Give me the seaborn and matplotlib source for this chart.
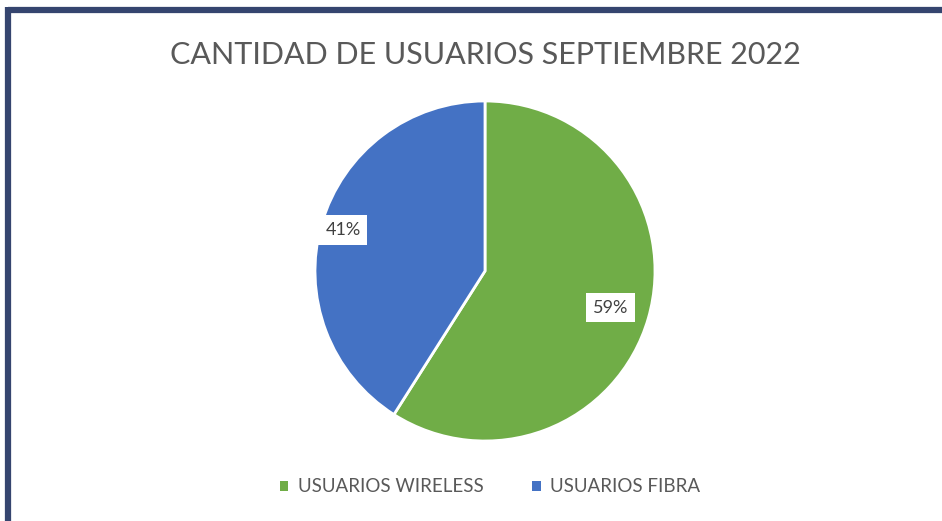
import matplotlib
matplotlib.use("Agg")
import matplotlib.pyplot as plt
from matplotlib.patches import Patch
from matplotlib.lines import Line2D
import numpy as np
import seaborn as sns

# ── data ──────────────────────────────────────────────────────────────────────
TITLE      = "CANTIDAD DE USUARIOS SEPTIEMBRE 2022"
categories = ["USUARIOS WIRELESS", "USUARIOS FIBRA"]
shares     = [59, 41]
colors     = ["#70AD47", "#4472C4"]

# ── style ─────────────────────────────────────────────────────────────────────
sns.set_theme(style="white")
plt.rcParams["font.family"] = ["Lato", "DejaVu Sans"]
TEXT_GRAY = "#595959"
NAVY      = "#35456f"

W, H = 942, 521
fig = plt.figure(figsize=(W / 100, H / 100), dpi=100)
fig.patch.set_facecolor("white")

# pie axes: centre (485, 271) px, radius 170 px
cx, cy, r = 485, 271, 170
ax = fig.add_axes([(cx - r) / W, (H - cy - r) / H, 2 * r / W, 2 * r / H])
wedges, _ = ax.pie(shares, colors=colors, startangle=90, counterclock=False,
                   radius=1.0, wedgeprops=dict(edgecolor="white", linewidth=2))
ax.set_xlim(-1, 1); ax.set_ylim(-1, 1)
ax.set_aspect("equal")
ax.axis("off")

# percentage labels in white boxes
for w, val, dist in zip(wedges, shares, [0.77, 0.87]):
    ang = np.deg2rad((w.theta1 + w.theta2) / 2)
    ax.text(dist * np.cos(ang), dist * np.sin(ang), f"{val}%",
            ha="center", va="center", fontsize=13, color="#404040",
            bbox=dict(facecolor="white", edgecolor="none", pad=5))

# title
fig.text(cx / W, 1 - 55 / H, TITLE, ha="center", va="center",
         fontsize=22, color=TEXT_GRAY)

# legend
handles = [Patch(facecolor=c, edgecolor="none") for c in colors]
leg = fig.legend(handles, categories, loc="center", bbox_to_anchor=(490 / W, 1 - 487 / H),
                 ncol=2, frameon=False, fontsize=13.5, handlelength=0.45, handleheight=0.45,
                 handletextpad=0.5, columnspacing=2.6)
for t in leg.get_texts():
    t.set_color(TEXT_GRAY)

# navy frame on top and left edges
fig.add_artist(Line2D([8 / W, 1], [1 - 10 / H, 1 - 10 / H], transform=fig.transFigure,
                      color=NAVY, linewidth=4.5, solid_capstyle="butt"))
fig.add_artist(Line2D([8 / W, 8 / W], [0, 1 - 7 / H], transform=fig.transFigure,
                      color=NAVY, linewidth=4.5, solid_capstyle="butt"))

fig.savefig("out.png", dpi=100, facecolor="white")
